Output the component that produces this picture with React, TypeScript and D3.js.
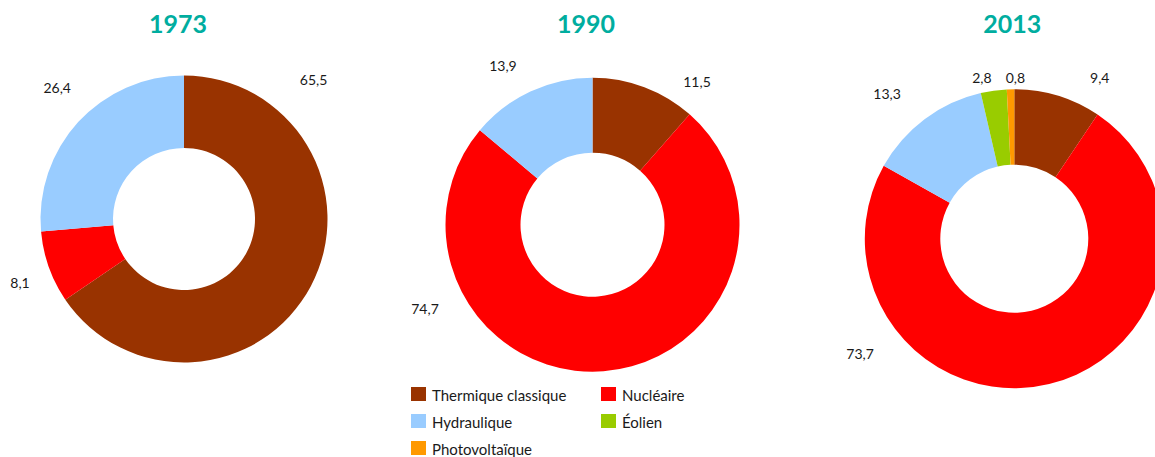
import React from "react";
import * as d3 from "d3";

// energy sources, in drawing order (clockwise from the top)
const sources = ["Thermique classique", "Nucléaire", "Hydraulique", "Éolien", "Photovoltaïque"];
const colors = ["#993300", "#ff0000", "#99ccff", "#99cc00", "#ff9900"];

const years = ["1973", "1990", "2013"];
const values1973 = [65.5, 8.1, 26.4, 0, 0];
const values1990 = [11.5, 74.7, 13.9, 0, 0];
const values2013 = [9.4, 73.7, 13.3, 2.8, 0.8];
const allValues = [values1973, values1990, values2013];

// layout of each donut: centre, radii, title offset and hand placed labels (angle in deg, radius)
const layout = [
  { cx: 184, cy: 219, r: 143.5, ri: 71, titleDx: -6, labels: [[43, 190], [248.7, 176], [316, 182.6]] },
  { cx: 592.5, cy: 224.7, r: 147, ri: 72, titleDx: -6.5, labels: [[36.2, 177], [243.3, 187.5], [330.6, 182.5]] },
  { cx: 1014.3, cy: 238.7, r: 149.5, ri: 74, titleDx: -2, labels: [[28, 182], [233.2, 192.6], [318.7, 192.7], [348.6, 163.9], [0.4, 160.7]] },
];

const fmt = (v: number) => v.toFixed(1).replace(".", ",");
const FONT = "Lato, 'Open Sans', sans-serif";

const Donut = ({ values, year, cfg }: any) => {
  const pie = d3.pie<number>().sort(null).value((d) => d);
  const arcs = pie(values).filter((d) => d.data > 0);
  const arc = d3.arc<any>().innerRadius(cfg.ri).outerRadius(cfg.r);

  return (
    <g>
      <text
        x={cfg.cx + cfg.titleDx}
        y={33}
        textAnchor="middle"
        fontFamily={FONT}
        fontWeight="bold"
        fontSize="25px"
        fill="#00ad9f"
      >
        {year}
      </text>
      <g transform={`translate(${cfg.cx},${cfg.cy})`}>
        {arcs.map((d, i) => (
          <path key={i} d={arc(d) || ""} fill={colors[d.index]} />
        ))}
        {arcs.map((d, i) => {
          const [ang, rad] = cfg.labels[i];
          const t = (ang * Math.PI) / 180;
          return (
            <text
              key={"l" + i}
              x={Math.sin(t) * rad}
              y={-Math.cos(t) * rad + 5}
              textAnchor="middle"
              fontFamily={FONT}
              fontSize="14px"
              fill="#1a1a1a"
            >
              {fmt(d.data)}
            </text>
          );
        })}
      </g>
    </g>
  );
};

const Legend = () => {
  const col = d3.scaleOrdinal<number, number>().domain([0, 1]).range([411, 601]);
  const row = d3.scaleLinear().domain([0, 2]).range([401, 455]);
  return (
    <g>
      {sources.map((s, i) => {
        const x = col(i % 2);
        const y = row(Math.floor(i / 2));
        return (
          <g key={s}>
            <rect x={x} y={y - 14} width={15} height={14} fill={colors[i]} />
            <text x={x + 21} y={y} fontFamily={FONT} fontSize="15px" fill="#1a1a1a">
              {s}
            </text>
          </g>
        );
      })}
    </g>
  );
};

export default function App() {
  return (
    <svg
      width={1155}
      height={457}
      style={{ position: "absolute", left: 0, top: 0, background: "#fff" }}
    >
      {years.map((y, i) => (
        <Donut key={y} year={y} values={allValues[i]} cfg={layout[i]} />
      ))}
      <Legend />
    </svg>
  );
}
